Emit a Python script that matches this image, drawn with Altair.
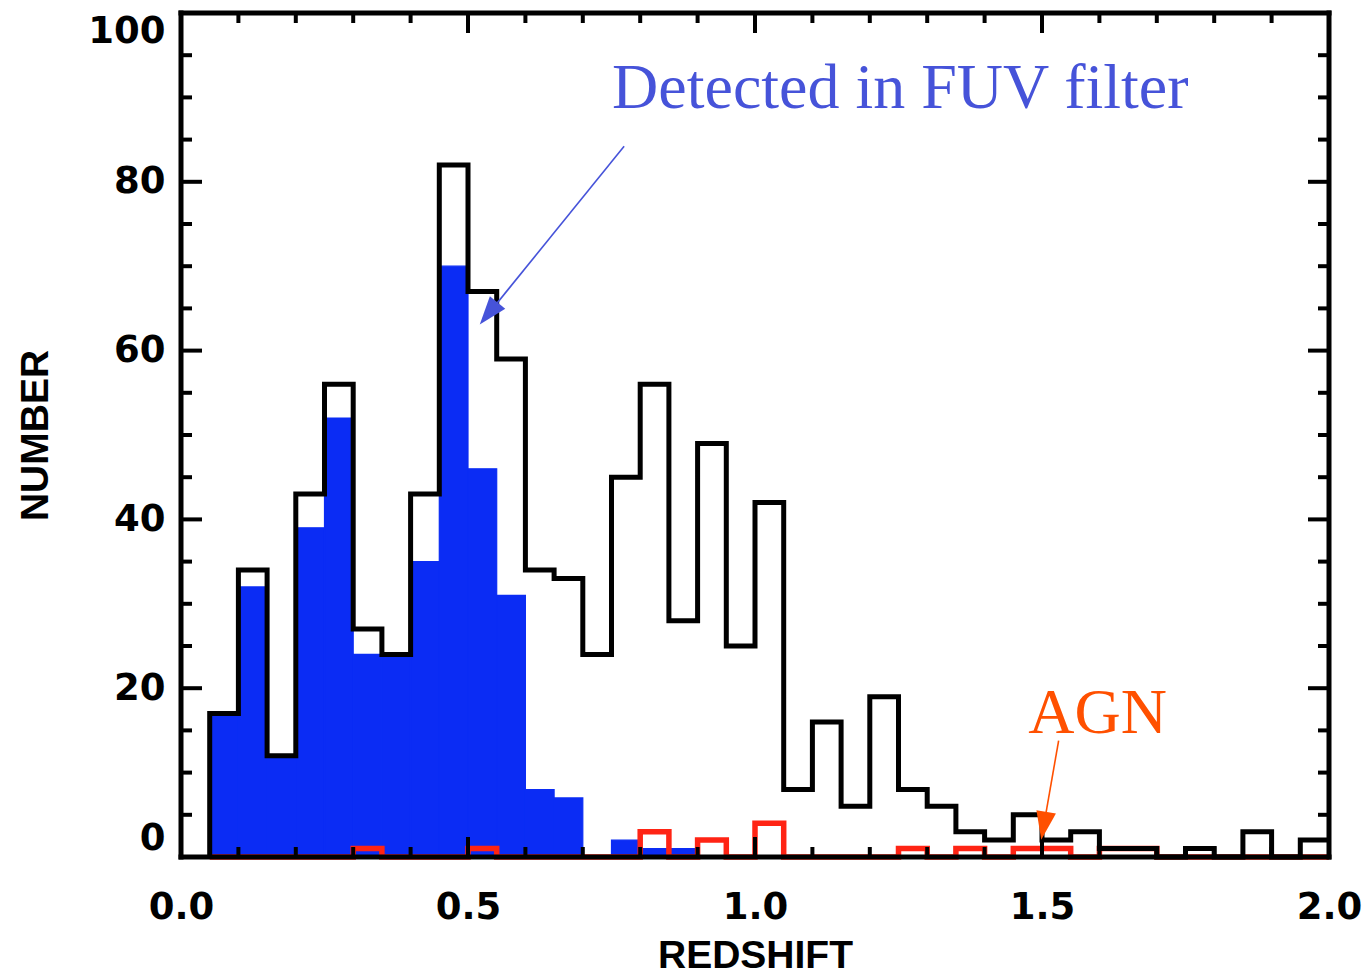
import altair as alt
import pandas as pd

# Histogram binning in redshift
BIN_WIDTH = 0.05
FIRST_EDGE = 0.05

# Number of galaxies per redshift bin
all_counts = [17, 34, 12, 43, 56, 27, 24, 43, 82, 67, 59, 34, 33, 24, 45, 56, 28, 49, 25, 42,
              8, 16, 6, 19, 8, 6, 3, 2, 5, 2, 3, 1, 1, 0, 1, 0, 3, 0, 2]
# Galaxies detected in the FUV filter
fuv_counts = [17, 32, 12, 39, 52, 24, 24, 35, 70, 46, 31, 8, 7, 0, 2, 1, 1, 0, 0, 0,
              0, 0, 0, 0, 0, 0, 0, 0, 0, 0, 0, 0, 0, 0, 0, 0, 0, 0, 0]
# AGN
agn_counts = [0, 0, 0, 0, 0, 1, 0, 0, 0, 1, 0, 0, 0, 0, 0, 3, 0, 2, 0, 4,
              0, 0, 0, 0, 1, 0, 1, 0, 1, 1, 0, 1, 1, 0, 0, 0, 0, 0, 0]

# Axis tick values
x_major = [0.0, 0.5, 1.0, 1.5, 2.0]
x_minor = [0.1, 0.2, 0.3, 0.4, 0.6, 0.7, 0.8, 0.9, 1.1, 1.2, 1.3, 1.4, 1.6, 1.7, 1.8, 1.9]
y_major = [0, 20, 40, 60, 80, 100]
y_minor = [5, 10, 15, 25, 30, 35, 45, 50, 55, 65, 70, 75, 85, 90, 95]

# Annotations (text anchor and arrow in data units)
note_text = ["Detected in FUV filter", "AGN"]
note_color = ["#4653d9", "#ff5000"]
note_z = [0.751, 1.476]
note_n = [88.7, 14.7]
arrow_z0 = [0.772, 1.529]
arrow_n0 = [84.2, 13.8]
arrow_z1 = [0.536, 1.503]
arrow_n1 = [64.4, 3.7]
arrow_angle = [219, 190]

W, H = 1148, 844
BLUE = "#0b2cf4"
RED = "#ff2414"

bin_starts = [round(FIRST_EDGE + BIN_WIDTH * i, 2) for i in range(len(all_counts))]


def step_frame(counts):
    xs = [FIRST_EDGE] + bin_starts + [round(bin_starts[-1] + BIN_WIDTH, 2)]
    ys = [0] + list(counts) + [counts[-1]]
    return pd.DataFrame({"z": xs, "n": ys, "i": list(range(len(xs)))})


xscale = alt.Scale(domain=[0, 2], nice=False, zero=False)
yscale = alt.Scale(domain=[0, 100], nice=False)

xaxis = alt.Axis(
    values=x_major, format=".1f", title="REDSHIFT", ticks=False, tickSize=0,
    domain=False, grid=False, labelFont="DejaVu Sans", labelFontWeight="bold",
    labelFontSize=37, labelColor="black", labelPadding=32, labelFlush=False,
    labelOverlap=False, titleFont="Liberation Sans", titleFontWeight="bold",
    titleFontSize=39, titleColor="black", titleX=574, titleY=98,
    titleBaseline="middle", titleAlign="center",
)
yaxis = alt.Axis(
    values=y_major, format="d", title="NUMBER", ticks=False, tickSize=0,
    domain=False, grid=False, labelFont="DejaVu Sans", labelFontWeight="bold",
    labelFontSize=37, labelColor="black", labelPadding=16, labelFlush=True,
    labelOverlap=False, titleFont="Liberation Sans", titleFontWeight="bold",
    titleFontSize=39, titleColor="black", titleX=-146, titleY=422,
    titleBaseline="middle", titleAlign="center", titleAngle=270,
)


def X(field="z"):
    return alt.X(f"{field}:Q", scale=xscale, axis=xaxis)


def Y(field="n"):
    return alt.Y(f"{field}:Q", scale=yscale, axis=yaxis)


# FUV-detected histogram as filled bars
fuv_df = pd.DataFrame({
    "z": bin_starts,
    "z_end": [round(b + BIN_WIDTH, 2) for b in bin_starts],
    "n": fuv_counts,
    "base": [0] * len(bin_starts),
})
fuv_df = fuv_df[fuv_df["n"] > 0]
fuv_bars = alt.Chart(fuv_df).mark_rect(color=BLUE, stroke=BLUE, strokeWidth=1.2).encode(
    x=X(), x2="z_end:Q", y=Y(), y2="base:Q"
)

agn_step = alt.Chart(step_frame(agn_counts)).mark_line(
    interpolate="step-after", color=RED, strokeWidth=5.5, strokeJoin="miter"
).encode(x=X(), y=Y(), order="i:Q")

all_step = alt.Chart(step_frame(all_counts)).mark_line(
    interpolate="step-after", color="black", strokeWidth=5, strokeJoin="miter"
).encode(x=X(), y=Y(), order="i:Q")

# Plot frame
one = pd.DataFrame({"k": [0]})
frame_style = dict(color="black", strokeWidth=5, strokeCap="square")
frame = alt.layer(
    alt.Chart(one).mark_rule(**frame_style).encode(x=alt.value(0), x2=alt.value(W), y=alt.value(H)),
    alt.Chart(one).mark_rule(**frame_style).encode(x=alt.value(0), x2=alt.value(W), y=alt.value(0)),
    alt.Chart(one).mark_rule(**frame_style).encode(x=alt.value(0), y=alt.value(0), y2=alt.value(H)),
    alt.Chart(one).mark_rule(**frame_style).encode(x=alt.value(W), y=alt.value(0), y2=alt.value(H)),
)

# Inward tick marks on all four sides
tick_style = dict(color="black", strokeWidth=4)


def y_ticks(vals, length):
    df = pd.DataFrame({"n": vals})
    left = alt.Chart(df).mark_rule(**tick_style).encode(y=Y(), x=alt.value(0), x2=alt.value(length))
    right = alt.Chart(df).mark_rule(**tick_style).encode(y=Y(), x=alt.value(W - length), x2=alt.value(W))
    return [left, right]


def x_ticks(vals, length):
    df = pd.DataFrame({"z": vals})
    bottom = alt.Chart(df).mark_rule(**tick_style).encode(x=X(), y=alt.value(H - length), y2=alt.value(H))
    top = alt.Chart(df).mark_rule(**tick_style).encode(x=X(), y=alt.value(0), y2=alt.value(length))
    return [bottom, top]


ticks = y_ticks(y_major, 21) + y_ticks(y_minor, 11) + x_ticks(x_major, 20) + x_ticks(x_minor, 10)

# Annotations
notes_df = pd.DataFrame({"z": note_z, "n": note_n, "t": note_text, "c": note_color})
notes = alt.Chart(notes_df).mark_text(
    font="Liberation Serif", fontSize=64, align="left", baseline="alphabetic"
).encode(x=X(), y=Y(), text="t:N", color=alt.Color("c:N", scale=None))

arrows_df = pd.DataFrame({
    "z": arrow_z0, "n": arrow_n0, "z1": arrow_z1, "n1": arrow_n1,
    "c": note_color, "a": arrow_angle,
})
arrow_lines = alt.Chart(arrows_df).mark_rule(strokeWidth=1.6).encode(
    x=X(), y=Y(), x2="z1:Q", y2="n1:Q", color=alt.Color("c:N", scale=None)
)
heads_df = pd.DataFrame({"z": arrow_z1, "n": arrow_n1, "c": note_color, "a": arrow_angle})
arrow_heads = alt.Chart(heads_df).mark_point(
    shape="M0,-1L-0.7,1L0.7,1Z", filled=True, size=800, opacity=1, strokeWidth=0
).encode(
    x=X(), y=Y(), color=alt.Color("c:N", scale=None), angle=alt.Angle("a:Q", scale=None)
)

chart = alt.layer(
    fuv_bars, agn_step, all_step, frame, *ticks, notes, arrow_lines, arrow_heads
).properties(
    width=W, height=H,
    padding={"left": 181, "top": 13, "right": 36, "bottom": 119},
    autosize=alt.AutoSizeParams(type="none"),
    background="white",
).configure_view(stroke=None)

chart.save("out.html", embed_options={"renderer": "svg", "actions": False})
